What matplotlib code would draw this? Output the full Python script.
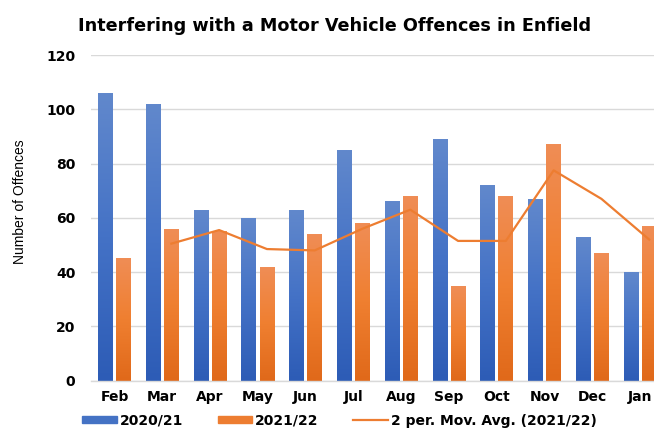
import numpy as np
import matplotlib.pyplot as plt
from matplotlib.colors import LinearSegmentedColormap

# Data
months = ['Feb', 'Mar', 'Apr', 'May', 'Jun', 'Jul', 'Aug', 'Sep', 'Oct', 'Nov', 'Dec', 'Jan']
offences_2020 = [106, 102, 63, 60, 63, 85, 66, 89, 72, 67, 53, 40]
offences_2021 = [45, 56, 55, 42, 54, 58, 68, 35, 68, 87, 47, 57]
# 2 period moving average of 2021/22 (first month has none)
mov_avg_2021 = [np.nan, 50.5, 55.5, 48.5, 48, 56, 63, 51.5, 51.5, 77.5, 67, 52]

# wide bold sans for the labels, narrow one for the axis title
plt.rcParams['font.family'] = ['DejaVu Sans']

blue_cmap = LinearSegmentedColormap.from_list('blue', ['#2d5cb6', '#4472c6', '#6188cc'])
orange_cmap = LinearSegmentedColormap.from_list('orange', ['#e0691a', '#ef7f30', '#f08d55'])

fig = plt.figure(figsize=(6.54, 4.28), dpi=100)
ax = fig.add_axes([90.6 / 654, 47.3 / 428, 1 - 90.6 / 654, 325.7 / 428])

x = np.arange(len(months))
width = 0.31
offset = 0.19

grad = np.linspace(0, 1, 100).reshape(-1, 1)


def gradient_bars(xpos, vals, cmap):
    bars = ax.bar(xpos, vals, width, color='none', edgecolor='none', zorder=2)
    for rect in bars:
        x0 = rect.get_x()
        ax.imshow(grad, extent=[x0, x0 + rect.get_width(), 0, rect.get_height()],
                  cmap=cmap, aspect='auto', origin='lower', zorder=2)
    return bars


gradient_bars(x - offset, offences_2020, blue_cmap)
gradient_bars(x + offset, offences_2021, orange_cmap)
ax.plot(x + offset, mov_avg_2021, color='#ed7d31', linewidth=1.6, zorder=3)

ax.set_xlim(-0.5, 11.29)
ax.set_ylim(0, 120)
ax.set_yticks(range(0, 121, 20))
ax.set_xticks(x)
ax.set_xticklabels(months)

for lbl in ax.get_xticklabels() + ax.get_yticklabels():
    lbl.set_fontweight('bold')
    lbl.set_fontsize(10)

ax.tick_params(axis='y', length=0, pad=11)
ax.tick_params(axis='x', length=0, pad=7)
ax.grid(axis='y', color='#d9d9d9', linewidth=1, zorder=0)
ax.set_axisbelow(True)
for side in ['top', 'right', 'left']:
    ax.spines[side].set_visible(False)
ax.spines['bottom'].set_color('#d9d9d9')
ax.spines['bottom'].set_linewidth(1)

fig.text(335 / 654, 1 - 31 / 428, 'Interfering with a Motor Vehicle Offences in Enfield',
         ha='center', va='baseline', fontsize=12.7, fontweight='bold')
fig.text(20 / 654, 1 - 202 / 428, 'Number of Offences', rotation=90,
         ha='center', va='center', fontsize=10, family=['Liberation Sans', 'DejaVu Sans'])

# Legend
handles = [plt.Rectangle((0, 0), 1, 1, color='#4472c4'),
           plt.Rectangle((0, 0), 1, 1, color='#ed7d31'),
           plt.Line2D([0], [0], color='#ed7d31', linewidth=1.6)]
labels = ['2020/21', '2021/22', '2 per. Mov. Avg. (2021/22)']
fig.legend(handles, labels, loc='center', bbox_to_anchor=(339.5 / 654, 7.5 / 428), ncol=3,
           frameon=False, prop={'weight': 'bold', 'size': 10},
           handlelength=2.5, handleheight=0.4, handletextpad=0.2, columnspacing=2.5)

plt.savefig('out.png', dpi=100)
